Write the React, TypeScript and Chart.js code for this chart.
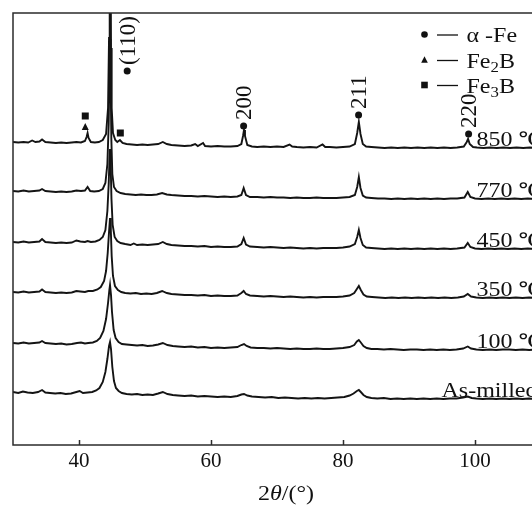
import { useEffect, useRef } from "react";
import { Chart, registerables } from "chart.js";

Chart.register(...registerables);

const SERIF = "'Liberation Serif', 'Times New Roman', 'DejaVu Serif', serif";

const X_MIN = 30;
const X_MAX = 110;
const Y_MIN = 0;
const Y_MAX = 432;
const xTickValues = [40, 60, 80, 100];
const xAxisTitle = ["2", "θ", "/(°)"];

const sampleNames = ["As-milled", "100 ℃", "350 ℃", "450 ℃", "770 ℃", "850 ℃"];
const sampleOffsets = [46, 95, 147, 196, 246, 297];

// intensity above each trace's own baseline (arbitrary units), [2θ, I]
const asMilled: [number, number][] = [
  [30, 7], [30.8, 6], [31.5, 7.5], [32.2, 6.5], [33, 6], [33.8, 7], [34.4, 9], [34.9, 6.5], [35.6, 6], [36.4, 5.5],
  [37.2, 6], [38, 5], [38.8, 5.5], [39.6, 7], [40.1, 8], [40.6, 6], [41.3, 6.5], [42, 7], [42.6, 8.5], [43.1, 11],
  [43.6, 17], [44, 27], [44.3, 40], [44.55, 53], [44.7, 57], [44.85, 50], [45.05, 32], [45.3, 18], [45.6, 11], [46, 8],
  [46.5, 6], [47.2, 5], [48, 4.5], [48.8, 5], [49.6, 4], [50.4, 4.5], [51.2, 4], [52, 5.5], [52.7, 7], [53.4, 5],
  [54.2, 4], [55, 3.5], [56, 3], [57, 3.5], [58, 2.5], [59, 3], [60, 2.5], [61, 2], [62, 2.5], [63, 2],
  [64, 3], [64.6, 4.5], [65, 5], [65.5, 3.5], [66.2, 2.5], [67.2, 2], [68.2, 1.5], [69.2, 2], [70.2, 1], [71.2, 1.5],
  [72.2, 1], [73.2, 0.5], [74.2, 1], [75.2, 0.5], [76.2, 1], [77.2, 0.5], [78.2, 1], [79.2, 1.5], [80.2, 2], [81, 3.5],
  [81.6, 5.5], [82.1, 8], [82.4, 9], [82.7, 7], [83.1, 4], [83.6, 2], [84.3, 1], [85.2, 0.5], [86.2, 1], [87.2, 0],
  [88.2, 0.5], [89.2, 0], [90.2, 0.5], [91.2, 0], [92.2, 0.5], [93.2, 0], [94.2, 0.5], [95.2, 0], [96.2, 0.5], [97.2, 0.5],
  [98.2, 1.5], [98.9, 2.5], [99.5, 1], [100.2, 0.5], [101.2, 0], [102.2, 0.5], [103.2, 0], [104.2, 0.5], [105.2, 0], [106.2, 0.5],
  [107.2, 0], [108.2, 0.5], [109.2, 0], [110, 0.5],
];

const t100: [number, number][] = [
  [30, 7], [30.8, 6.5], [31.6, 7.5], [32.4, 6.5], [33.2, 7], [34, 7.5], [34.4, 9], [34.9, 7], [35.7, 6.5], [36.5, 6],
  [37.3, 6.5], [38.1, 5.5], [38.9, 6], [39.7, 7], [40.3, 7.5], [40.9, 6.5], [41.4, 7], [42.1, 7.5], [42.7, 9], [43.2, 12],
  [43.7, 19], [44.1, 31], [44.4, 47], [44.6, 60], [44.7, 65], [44.85, 55], [45, 38], [45.25, 20], [45.55, 12], [46, 8],
  [46.5, 6], [47.2, 5.5], [48, 5], [48.8, 4.5], [49.6, 5], [50.4, 4], [51.2, 4.5], [52, 5.5], [52.7, 7], [53.4, 5],
  [54.2, 4], [55, 3.5], [56, 3], [57, 3.5], [58, 2.5], [59, 3], [60, 2], [61, 2.5], [62, 2], [63, 2.5],
  [64, 3], [64.6, 5], [65, 6], [65.4, 4], [66, 2.5], [67, 2], [68, 2], [69, 1.5], [70, 2], [71, 1.5],
  [72, 1], [73, 1.5], [74, 1], [75, 1], [76, 1.5], [77, 1], [78, 1], [79, 1.5], [80, 2], [81, 3],
  [81.7, 5], [82.1, 8.5], [82.4, 10], [82.7, 7.5], [83.1, 4], [83.6, 2], [84.3, 1], [85.2, 1], [86.2, 0.5], [87.2, 1],
  [88.2, 0.5], [89.2, 0], [90.2, 0.5], [91.2, 0.5], [92.2, 0], [93.2, 0.5], [94.2, 0], [95.2, 0.5], [96.2, 0], [97.2, 0.5],
  [98.2, 1.5], [98.9, 3.5], [99.4, 1.5], [100.2, 0.5], [101.2, 0], [102.2, 0.5], [103.2, 0], [104.2, 0.5], [105.2, 0.5], [106.2, 0],
  [107.2, 0.5], [108.2, 0], [109.2, 0.5], [110, 0],
];

const t350: [number, number][] = [
  [30, 6], [30.8, 5.5], [31.6, 6.5], [32.4, 5.5], [33.2, 6], [34, 6.5], [34.4, 8.5], [34.9, 6], [35.7, 5.5], [36.5, 5],
  [37.3, 5.5], [38.1, 5], [38.9, 5.5], [39.6, 7], [40.2, 6.5], [40.9, 6], [41.4, 7], [42.1, 7], [42.8, 8.5], [43.3, 11],
  [43.8, 17], [44.1, 27], [44.35, 45], [44.55, 66], [44.7, 80], [44.82, 68], [44.95, 42], [45.15, 22], [45.45, 12], [45.9, 8],
  [46.4, 6], [47, 5], [47.8, 4.5], [48.6, 5], [49.4, 4], [50.2, 4.5], [51, 4], [51.8, 5], [52.6, 7], [53.3, 5],
  [54, 4], [55, 3.5], [56, 3], [57, 3], [58, 2.5], [59, 3], [60, 2], [61, 2.5], [62, 2], [63, 2],
  [64, 2.5], [64.6, 5], [64.95, 7], [65.3, 4], [65.9, 2.5], [67, 2], [68, 1.5], [69, 2], [70, 1.5], [71, 1],
  [72, 1.5], [73, 1], [74, 0.5], [75, 1], [76, 0.5], [77, 1], [78, 1], [79, 1], [80, 1.5], [81, 2.5],
  [81.7, 5], [82.1, 9], [82.4, 12], [82.7, 8], [83.1, 3.5], [83.6, 1.5], [84.4, 1], [85.4, 0.5], [86.4, 0], [87.4, 0.5],
  [88.4, 0], [89.4, 0.5], [90.4, 0], [91.4, 0.5], [92.4, 0], [93.4, 0.5], [94.4, 0], [95.4, 0.5], [96.4, 0], [97.4, 0.5],
  [98.3, 1.5], [98.9, 4], [99.4, 1.5], [100.2, 0.5], [101.2, 0], [102.2, 0.5], [103.2, 0], [104.2, 0.5], [105.2, 0], [106.2, 0.5],
  [107.2, 0], [108.2, 0.5], [109.2, 0], [110, 0.5],
];

const t450: [number, number][] = [
  [30, 7], [30.8, 6.5], [31.6, 7.5], [32.4, 6.5], [33.2, 7], [34, 7.5], [34.4, 10], [34.9, 7], [35.7, 6.5], [36.5, 6],
  [37.3, 6.5], [38.1, 6], [38.9, 6.5], [39.6, 8.5], [40.2, 7.5], [40.9, 7], [41.3, 8], [41.8, 7], [42.5, 7.5], [43.1, 9],
  [43.6, 12], [44, 19], [44.3, 38], [44.5, 65], [44.62, 90], [44.7, 100], [44.8, 84], [44.92, 50], [45.1, 24], [45.4, 12],
  [45.8, 8], [46.3, 6], [47, 5], [47.8, 4], [48.3, 5.5], [48.8, 4], [49.6, 4.5], [50.4, 4], [51.2, 4.5], [52, 5],
  [52.7, 7], [53.3, 5], [54, 4], [55, 3.5], [56, 3], [57, 3], [58, 2.5], [59, 3], [60, 2], [61, 2.5],
  [62, 2], [63, 2], [64, 2.5], [64.6, 5], [64.95, 11], [65.3, 4.5], [65.9, 2.5], [67, 2], [68, 1.5], [69, 2],
  [70, 1.5], [71, 1], [72, 1.5], [73, 1], [74, 0.5], [75, 1], [76, 0.5], [77, 1], [78, 1], [79, 1],
  [80, 1.5], [81, 2.5], [81.8, 5], [82.15, 12], [82.4, 19], [82.65, 11], [83, 4], [83.5, 1.5], [84.3, 1], [85.3, 0.5],
  [86.3, 0], [87.3, 0.5], [88.3, 0], [89.3, 0.5], [90.3, 0], [91.3, 0.5], [92.3, 0], [93.3, 0.5], [94.3, 0], [95.3, 0.5],
  [96.3, 0], [97.3, 0.5], [98.4, 1.5], [98.9, 6], [99.3, 2], [100, 0.5], [101, 0], [102, 0.5], [103, 0], [104, 0.5],
  [105, 0], [106, 0.5], [107, 0], [108, 0.5], [109, 0], [110, 0.5],
];

const t770: [number, number][] = [
  [30, 8], [30.8, 7.5], [31.6, 8.5], [32.4, 7.5], [33.2, 8], [34, 8.5], [34.4, 10], [34.9, 8], [35.7, 7.5], [36.5, 7],
  [37.3, 7.5], [38.1, 7], [38.9, 7.5], [39.6, 8.5], [40.3, 8], [40.9, 8.5], [41.3, 12], [41.7, 8], [42.3, 7.5], [43, 8],
  [43.6, 10], [44, 16], [44.3, 35], [44.5, 75], [44.62, 130], [44.7, 160], [44.78, 130], [44.9, 60], [45.05, 25], [45.3, 12],
  [45.7, 8], [46.3, 6], [47, 5], [47.8, 4.5], [48.6, 4], [49.4, 4.5], [50.2, 4], [51, 4], [51.8, 4.5], [52.6, 6],
  [53.3, 4.5], [54, 4], [55, 3.5], [56, 3], [57, 3], [58, 2.5], [59, 3], [60, 2.5], [61, 2], [62, 2.5],
  [63, 2], [64, 2.5], [64.6, 4], [64.95, 11], [65.3, 4], [65.9, 2], [67, 2], [68, 1.5], [69, 2], [70, 1.5],
  [71, 1.5], [72, 1], [73, 1.5], [74, 1], [75, 1], [76, 1.5], [77, 1], [78, 1], [79, 1], [80, 1.5],
  [81, 2], [81.8, 4], [82.15, 12], [82.4, 22], [82.65, 11], [83, 3.5], [83.5, 1.5], [84.3, 1], [85.3, 0.5], [86.3, 0.5],
  [87.3, 0], [88.3, 0.5], [89.3, 0], [90.3, 0.5], [91.3, 0], [92.3, 0.5], [93.3, 0], [94.3, 0.5], [95.3, 0], [96.3, 0.5],
  [97.3, 0.5], [98.4, 1.5], [98.9, 7], [99.3, 2], [100, 0.5], [101, 0], [102, 0.5], [103, 0], [104, 0.5], [105, 0],
  [106, 0.5], [107, 0], [108, 0.5], [109, 0], [110, 0.5],
];

const t850: [number, number][] = [
  [30, 6], [30.8, 5.5], [31.6, 6], [32.3, 5.5], [32.9, 7.5], [33.4, 6], [34, 6.5], [34.4, 8.5], [34.9, 6], [35.7, 5.5],
  [36.5, 5], [37.3, 5.5], [38.1, 5], [38.9, 5.5], [39.6, 6], [40.3, 5.5], [40.9, 7], [41.15, 11], [41.3, 15], [41.45, 10],
  [41.8, 6], [42.4, 5.5], [43, 6], [43.6, 8], [44.1, 14], [44.4, 40], [44.55, 110], [44.65, 250], [44.7, 320], [44.76, 250],
  [44.85, 100], [44.95, 40], [45.15, 15], [45.5, 8], [45.8, 6], [46.2, 8], [46.6, 5], [47.2, 4], [48, 3.5], [48.8, 3],
  [49.6, 3.5], [50.4, 3], [51.2, 3.5], [52, 4], [52.7, 6], [53.3, 4], [54, 3], [55, 2.5], [56, 2], [57, 2.5],
  [57.6, 4], [58, 2], [58.8, 5], [59.1, 2], [60, 1.5], [61, 2], [62, 1.5], [63, 1.5], [64, 2], [64.6, 4],
  [64.85, 12], [65, 18], [65.15, 12], [65.5, 3], [66.2, 1.5], [67, 1], [68, 1.5], [69, 1], [70, 1.5], [71, 1],
  [71.9, 3.5], [72.3, 1.5], [73, 1], [74, 0.5], [75, 1], [76, 0.5], [76.9, 3.5], [77.3, 1], [78, 1], [79, 0.5],
  [80, 1], [81, 1.5], [81.8, 4], [82.15, 15], [82.4, 26], [82.65, 14], [83, 4], [83.5, 1.5], [84.3, 1], [85.3, 0.5],
  [86.3, 0], [87.3, 0.5], [88.3, 0], [89.3, 0.5], [90.3, 0], [91.3, 0.5], [92.3, 0], [93.3, 0.5], [94.3, 0], [95.3, 0.5],
  [96.3, 0], [97.3, 0.5], [98.3, 1.5], [98.75, 6], [98.95, 9], [99.2, 4], [99.7, 1], [100.3, 0.5], [101.3, 0], [102.3, 0.5],
  [103.3, 0], [104.3, 0.5], [105.3, 0], [106.3, 0.5], [107.3, 0], [108.3, 0.5], [109.3, 0], [110, 0.5],
];

const traces = [asMilled, t100, t350, t450, t770, t850];

// phase markers: [2θ, level, shape, hkl label]
const markerX = [47.3, 40.95, 40.95, 46.26, 64.94, 82.36, 99.03];
const markerY = [374, 329, 318, 312, 319, 330, 311];
const markerShape = ["circle", "square", "triangle", "square", "circle", "circle", "circle"];
const markerLabel = ["(110)", "", "", "", "200", "211", "220"];

const legendShapes = ["circle", "triangle", "square"];
const legendTexts = [["α -Fe", "", ""], ["Fe", "2", "B"], ["Fe", "3", "B"]];

const SX = 1.2;

function drawShape(ctx: CanvasRenderingContext2D, shape: string, x: number, y: number, s: number) {
  ctx.beginPath();
  if (shape === "circle") {
    ctx.arc(x, y, s, 0, Math.PI * 2);
  } else if (shape === "square") {
    ctx.rect(x - s, y - s, 2 * s, 2 * s);
  } else {
    ctx.moveTo(x, y - s * 1.15);
    ctx.lineTo(x + s, y + s * 0.85);
    ctx.lineTo(x - s, y + s * 0.85);
    ctx.closePath();
  }
  ctx.fill();
}

type Run = { text: string; font: string; dy?: number };

function drawRuns(ctx: CanvasRenderingContext2D, runs: Run[], x: number, y: number, align: "left" | "center") {
  ctx.textAlign = "left";
  ctx.textBaseline = "alphabetic";
  let total = 0;
  runs.forEach((r) => {
    ctx.font = r.font;
    total += ctx.measureText(r.text).width;
  });
  ctx.save();
  ctx.translate(x, y);
  ctx.scale(SX, 1);
  let cx = align === "center" ? -total / 2 : 0;
  runs.forEach((r) => {
    ctx.font = r.font;
    ctx.fillText(r.text, cx, r.dy || 0);
    cx += ctx.measureText(r.text).width;
  });
  ctx.restore();
}

const overlayPlugin = {
  id: "overlay",
  afterDatasetsDraw(chart: any) {
    const { ctx, chartArea: a, scales } = chart;
    const xs = scales.x;
    const ys = scales.y;
    ctx.save();
    // frame
    ctx.strokeStyle = "#2b2b2b";
    ctx.lineWidth = 1.5;
    ctx.strokeRect(a.left, a.top, a.right - a.left, a.bottom - a.top);
    // inward ticks
    xTickValues.forEach((v) => {
      const px = Math.round(xs.getPixelForValue(v)) + 0.5;
      ctx.beginPath();
      ctx.moveTo(px, a.bottom);
      ctx.lineTo(px, a.bottom - 5);
      ctx.stroke();
    });

    ctx.fillStyle = "#111";
    // phase markers + hkl labels
    markerX.forEach((mx, i) => {
      const px = xs.getPixelForValue(mx);
      const py = ys.getPixelForValue(markerY[i]);
      drawShape(ctx, markerShape[i], px, py, 3.5);
      if (markerLabel[i]) {
        ctx.save();
        ctx.translate(px + 1.5, py - 6);
        ctx.rotate(-Math.PI / 2);
        ctx.textAlign = "left";
        ctx.textBaseline = "middle";
        ctx.font = `23px ${SERIF}`;
        ctx.fillText(markerLabel[i], 0, 0);
        ctx.restore();
      }
    });

    // sample labels
    sampleNames.forEach((name, i) => {
      const base = ys.getPixelForValue(sampleOffsets[i]);
      const lx = i === 0 ? 441.5 : 476.5;
      drawRuns(ctx, [{ text: name, font: `20px ${SERIF}` }], lx, base - 2, "left");
    });

    // legend
    const lgX = 424.5;
    const lgY = [34.5, 60, 85];
    legendShapes.forEach((shape, i) => {
      const y = lgY[i];
      drawShape(ctx, shape, lgX, y, 3.3);
      ctx.strokeStyle = "#111";
      ctx.lineWidth = 1.3;
      ctx.beginPath();
      ctx.moveTo(437, y + 0.5);
      ctx.lineTo(458, y + 0.5);
      ctx.stroke();
      const [a1, sub, b1] = legendTexts[i];
      const runs: Run[] = [{ text: a1, font: `20px ${SERIF}` }];
      if (sub) {
        runs.push({ text: sub, font: `14px ${SERIF}`, dy: 4 });
        runs.push({ text: b1, font: `20px ${SERIF}` });
      }
      drawRuns(ctx, runs, 466.5, y + 7.5, "left");
    });

    // axis title
    drawRuns(
      ctx,
      [
        { text: xAxisTitle[0], font: `20px ${SERIF}` },
        { text: xAxisTitle[1], font: `italic 20px ${SERIF}` },
        { text: xAxisTitle[2], font: `20px ${SERIF}` },
      ],
      286,
      500,
      "center"
    );
    ctx.restore();
  },
};

export default function App() {
  const ref = useRef<HTMLCanvasElement | null>(null);
  useEffect(() => {
    if (!ref.current) return;
    const chart = new Chart(ref.current, {
      type: "line",
      data: {
        datasets: traces.map((tr, i) => ({
          label: sampleNames[i],
          data: tr.map(([x, y]) => ({ x, y: y + sampleOffsets[i] })),
          borderColor: "#141414",
          borderWidth: 1.9,
          pointRadius: 0,
          tension: 0,
          fill: false,
        })),
      },
      options: {
        animation: false,
        responsive: false,
        layout: { padding: { left: 13, top: 13, right: 19, bottom: 0 } },
        plugins: { legend: { display: false }, tooltip: { enabled: false } },
        scales: {
          x: {
            type: "linear",
            min: X_MIN,
            max: X_MAX,
            grid: { display: false, drawTicks: false },
            border: { display: false },
            afterBuildTicks: (s: any) => {
              s.ticks = xTickValues.map((v) => ({ value: v }));
            },
            afterFit: (s: any) => {
              s.height = 61;
            },
            ticks: {
              color: "#111",
              font: { family: SERIF, size: 21 },
              padding: 4,
              maxRotation: 0,
              autoSkip: false,
            },
          },
          y: { display: false, min: Y_MIN, max: Y_MAX },
        },
      },
      plugins: [overlayPlugin],
    } as any);
    return () => chart.destroy();
  }, []);
  return (
    <div
      style={{
        position: "absolute",
        left: 0,
        top: 0,
        width: 532,
        height: 506,
        overflow: "hidden",
        background: "#fff",
      }}
    >
      <canvas ref={ref} width={560} height={506} style={{ display: "block" }} />
    </div>
  );
}
